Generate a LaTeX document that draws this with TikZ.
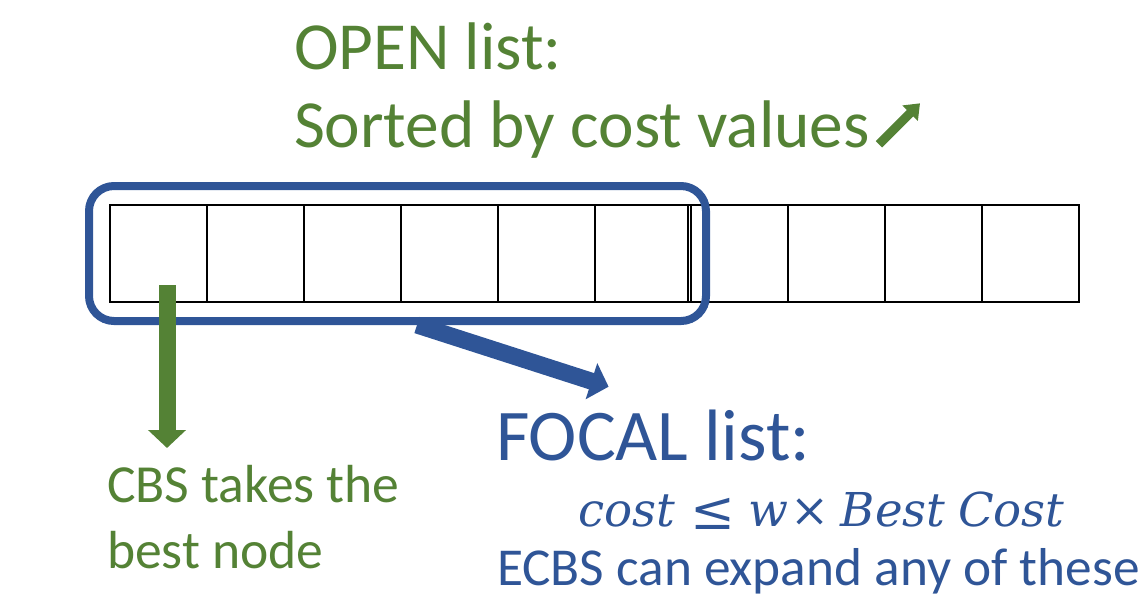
\documentclass[tikz,border=0pt]{standalone}
\usepackage{fontspec}
\setmainfont{Carlito}
\newfontfamily\mathlike{DejaVu Serif}
\usetikzlibrary{arrows.meta,calc}
\definecolor{ogreen}{HTML}{548235}
\definecolor{fblue}{HTML}{2F5597}
\tikzset{
  cell/.style={draw=black,line width=1.5pt,minimum width=72.675pt,minimum height=72.75pt,inner sep=0pt,outer sep=0pt},
  txt/.style={anchor=base west,inner sep=0pt,outer sep=0pt},
  bigarrow/.style={line width=12.75pt,-{Triangle[width=27.75pt,length=13.5pt]}},
  smallarrow/.style={line width=6.75pt,-{Triangle[width=15.75pt,length=10.5pt]}},
}
\begin{document}
\begin{tikzpicture}[x=0.75pt,y=-0.75pt]
\useasboundingbox (0,0) rectangle (1143,612);
% list cells
\foreach \i in {1,...,10} {
  \node[cell] (c\i) at ({110+96.9*(\i-0.5)},253) {};
}
\draw[line width=1.5pt] ($(c6.north east)+(-3,0)$) -- ($(c6.south east)+(-3,0)$);
% focal box
\node[draw=fblue,line width=6pt,rounded corners=18.75pt,minimum width=462.75pt,minimum height=101.25pt,inner sep=0pt] (focal) at (397.5,253.5) {};
% OPEN text
\node[txt,text=ogreen,font=\fontsize{50.5}{60}\selectfont] (open1) at (294,69.5) {OPEN list:};
\node[txt,text=ogreen,font=\fontsize{50.5}{60}\selectfont] (open2) at (294,147) {Sorted by cost values};
\coordinate (ua) at (879,144.3);
\coordinate (ub) at (920,103.3);
\draw[smallarrow,ogreen] (ua) -- (ub);
% green arrow
\coordinate (gs) at (167,285);
\coordinate (ge) at (167,448);
\draw[bigarrow,ogreen] (gs) -- (ge);
\node[txt,text=ogreen,font=\fontsize{40.2}{48}\selectfont] (cbs1) at (107,502) {CBS takes the};
\node[txt,text=ogreen,font=\fontsize{40.2}{48}\selectfont] (cbs2) at (107,568) {best node};
% blue arrow
\coordinate (bt) at (417,325);
\coordinate (bh) at (608.6,386.7);
\draw[bigarrow,fblue] (bt) -- (bh);
\node[txt,text=fblue,font=\fontsize{35}{42}\mathlike\itshape] (cond) at (578,526.7) {\makebox[84pt][l]{cost}\makebox[43.5pt][l]{\raisebox{-2pt}{\scalebox{1.15}{≤}}}\makebox[31.5pt][l]{w}\makebox[38.25pt][l]{×}\makebox[87.75pt][l]{Best}Cost};
\node[txt,text=fblue,font=\fontsize{54.6}{65}\selectfont] (ftitle) at (496,460) {FOCAL list:};
\node[txt,text=fblue,font=\fontsize{40}{48}\selectfont] (ecbs) at (497,585) {ECBS can expand any of these};
\end{tikzpicture}
\end{document}
